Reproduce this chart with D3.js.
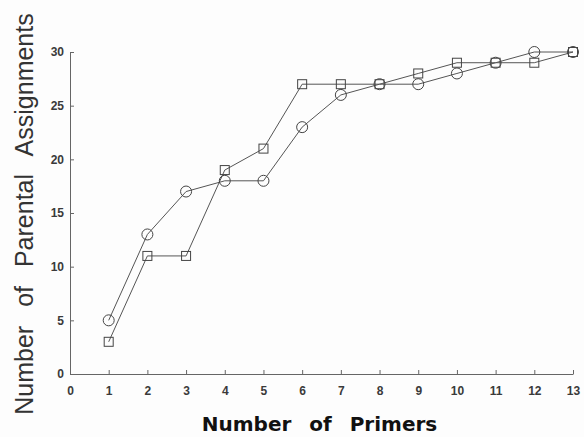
<!DOCTYPE html>
<html>
<head>
<meta charset="utf-8">
<script src="https://cdn.jsdelivr.net/npm/d3@7"></script>
<style>
  html, body { margin: 0; padding: 0; background: #fdfdfd; }
  svg { display: block; }
  .tick text { font-family: "Liberation Sans", Arial, sans-serif; fill: #3a3a3a; }
</style>
</head>
<body>
<svg id="chart"></svg>
<script>
// data
const primers = [1, 2, 3, 4, 5, 6, 7, 8, 9, 10, 11, 12, 13];
const circleSeries = [5, 13, 17, 18, 18, 23, 26, 27, 27, 28, 29, 30, 30];
const squareSeries = [3, 11, 11, 19, 21, 27, 27, 27, 28, 29, 29, 29, 30];
const xTicks = [0, 1, 2, 3, 4, 5, 6, 7, 8, 9, 10, 11, 12, 13];
const yTicks = [0, 5, 10, 15, 20, 25, 30];

const _width = 584, _height = 437;
const _margin = {left: 70, right: 11, top: 52, bottom: 63};

let svg = d3.select('#chart')
            .attr('width', _width)
            .attr('height', _height);

let x = d3.scaleLinear()
          .domain([0, 13])
          .range([_margin.left, _width - _margin.right]);
let y = d3.scaleLinear()
          .domain([0, 30])
          .range([_height - _margin.bottom, _margin.top]);

// axes, ticks pointing inward
let xAxis = svg.append('g')
                .attr('transform', `translate(0, ${y(0)})`)
                .call(d3.axisBottom(x).tickValues(xTicks).tickSize(-4).tickPadding(12).tickSizeOuter(0));
let yAxis = svg.append('g')
                .attr('transform', `translate(${x(0)}, 0)`)
                .call(d3.axisLeft(y).tickValues(yTicks).tickSize(-4).tickPadding(6).tickSizeOuter(0));

[xAxis, yAxis].forEach(a => {
  a.select('.domain').attr('stroke', '#666').attr('stroke-width', 1);
  a.selectAll('.tick line').attr('stroke', '#666');
  a.selectAll('.tick text').attr('font-size', 12).attr('font-weight', 'bold').attr('fill', '#3c3c3c');
});

// lines
let line = d3.line()
              .x((d, i) => x(primers[i]))
              .y(d => y(d));

[circleSeries, squareSeries].forEach(s => {
  svg.append('path')
      .datum(s)
      .attr('d', line)
      .attr('fill', 'none')
      .attr('stroke', '#555')
      .attr('stroke-width', 1);
});

// markers
svg.selectAll('circle.pt')
    .data(circleSeries)
    .enter()
  .append('circle')
    .attr('class', 'pt')
    .attr('cx', (d, i) => x(primers[i]))
    .attr('cy', d => y(d))
    .attr('r', 5.5)
    .attr('fill', 'none')
    .attr('stroke', '#444')
    .attr('stroke-width', 1);

const sq = 9;
svg.selectAll('rect.pt')
    .data(squareSeries)
    .enter()
  .append('rect')
    .attr('class', 'pt')
    .attr('x', (d, i) => x(primers[i]) - sq / 2)
    .attr('y', d => y(d) - sq / 2)
    .attr('width', sq)
    .attr('height', sq)
    .attr('fill', 'none')
    .attr('stroke', '#444')
    .attr('stroke-width', 1);

// axis titles
svg.append('text')
    .attr('x', (x(0) + x(13)) / 2 - 2)
    .attr('y', 431)
    .attr('text-anchor', 'middle')
    .attr('font-family', '"DejaVu Sans", sans-serif')
    .attr('font-weight', 'bold')
    .attr('font-size', 20)
    .attr('word-spacing', 11)
    .attr('fill', '#111')
    .text('Number of Primers');

svg.append('text')
    .attr('transform', 'translate(33, 214) rotate(-90)')
    .attr('text-anchor', 'middle')
    .attr('font-family', '"Liberation Sans", Arial, sans-serif')
    .attr('font-size', 25)
    .attr('word-spacing', 12)
    .attr('fill', '#333')
    .text('Number of Parental Assignments');
</script>
</body>
</html>
